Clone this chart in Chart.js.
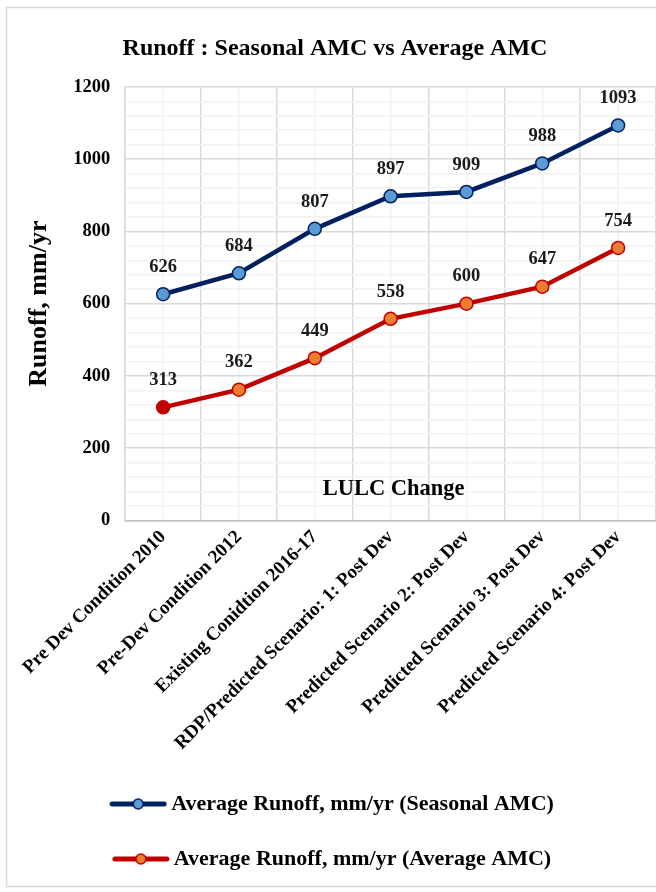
<!DOCTYPE html>
<html>
<head>
<meta charset="utf-8">
<script src="https://cdn.jsdelivr.net/npm/chart.js@4.4.1/dist/chart.umd.min.js"></script>
<style>
  html, body { margin: 0; padding: 0; background: #fff; }
  #wrap { width: 656px; height: 892px; }
</style>
</head>
<body>
<div id="wrap"><canvas id="myChart" width="656" height="892"></canvas></div>
<script>
'use strict';

// chart data
let categories = [
  'Pre Dev Condition 2010',
  'Pre-Dev Condition 2012',
  'Existing Conidtion 2016-17',
  'RDP/Predicted Scenario: 1: Post Dev',
  'Predicted Scenario 2: Post Dev',
  'Predicted Scenario 3: Post Dev',
  'Predicted Scenario 4: Post Dev'
];
let seasonalRunoff = [626, 684, 807, 897, 909, 988, 1093];
let averageRunoff = [313, 362, 449, 558, 600, 647, 754];
let seriesNames = [
  'Average Runoff, mm/yr (Seasonal AMC)',
  'Average Runoff, mm/yr (Average AMC)'
];
let yTicks = [0, 200, 400, 600, 800, 1000, 1200];

const serif = '"Liberation Serif", "DejaVu Serif", serif';
const navy = '#002060';
const lightBlue = '#5b9bd5';
const red = '#c00000';
const orange = '#ed7d31';

// legend sample: line with a marker in the middle
function legendSample(lineColor, fillColor) {
  let c = document.createElement('canvas');
  c.width = 58;
  c.height = 14;
  let g = c.getContext('2d');
  g.strokeStyle = lineColor;
  g.lineWidth = 5;
  g.lineCap = 'round';
  g.beginPath();
  g.moveTo(3, 7);
  g.lineTo(55, 7);
  g.stroke();
  g.beginPath();
  g.arc(29, 7, 5, 0, Math.PI * 2);
  g.fillStyle = fillColor;
  g.fill();
  g.lineWidth = 1.5;
  g.stroke();
  return c;
}

// white background + light outer frame
const framePlugin = {
  id: 'frame',
  beforeDraw(chart) {
    let ctx = chart.ctx;
    ctx.save();
    ctx.fillStyle = '#fff';
    ctx.fillRect(0, 0, chart.width, chart.height);
    ctx.strokeStyle = '#d9d9d9';
    ctx.lineWidth = 1.5;
    ctx.strokeRect(6.5, 7.5, 700, 879);
    ctx.restore();
  }
};

// value labels above points + x axis title inside plot
const labelPlugin = {
  id: 'pointLabels',
  afterDatasetsDraw(chart) {
    let ctx = chart.ctx;
    ctx.save();
    ctx.font = 'bold 18.5px ' + serif;
    ctx.fillStyle = '#1a1a1a';
    ctx.textAlign = 'center';
    ctx.textBaseline = 'middle';
    chart.data.datasets.forEach((ds, i) => {
      chart.getDatasetMeta(i).data.forEach((pt, j) => {
        ctx.fillText(ds.data[j], pt.x, pt.y - 27);
      });
    });
    let area = chart.chartArea;
    ctx.font = 'bold 22.5px ' + serif;
    ctx.fillStyle = '#000';
    ctx.fillText('LULC Change', (area.left + area.right) / 2 + 3, area.bottom - 31);
    ctx.restore();
  }
};

let chartObject = {
  type: 'line',
  data: {
    labels: categories,
    datasets: [{
      label: seriesNames[0],
      data: seasonalRunoff,
      borderColor: navy,
      borderWidth: 4.5,
      pointRadius: 6.5,
      pointBorderWidth: 1.5,
      pointBackgroundColor: lightBlue,
      pointBorderColor: navy,
      tension: 0
    },
    {
      label: seriesNames[1],
      data: averageRunoff,
      borderColor: red,
      borderWidth: 4.5,
      pointRadius: 6.5,
      pointBorderWidth: 1.5,
      pointBackgroundColor: averageRunoff.map((v, i) => i === 0 ? red : orange),
      pointBorderColor: red,
      tension: 0
    }]
  },
  options: {
    responsive: false,
    animation: false,
    devicePixelRatio: 1,
    layout: { autoPadding: false, padding: { left: 14, right: 0, top: 12, bottom: 12 } },
    plugins: {
      title: {
        display: true,
        text: 'Runoff : Seasonal AMC vs Average AMC',
        color: '#000',
        font: { family: serif, size: 24, weight: 'bold' },
        padding: { top: 22, bottom: 24 }
      },
      legend: {
        position: 'bottom',
        labels: {
          color: '#000',
          font: { family: serif, size: 22, weight: 'bold' },
          usePointStyle: true,
          pointStyleWidth: 44,
          padding: 33,
          generateLabels(chart) {
            return [
              { text: seriesNames[0], pointStyle: legendSample(navy, lightBlue), datasetIndex: 0, fontColor: '#000', lineWidth: 0 },
              { text: seriesNames[1], pointStyle: legendSample(red, orange), datasetIndex: 1, fontColor: '#000', lineWidth: 0 }
            ];
          }
        }
      },
      tooltip: { enabled: false }
    },
    scales: {
      x: {
        offset: true,
        grid: { offset: true, color: '#d9d9d9', lineWidth: 1.5, drawTicks: false },
        border: { color: '#bfbfbf', width: 1.5 },
        ticks: {
          color: '#000',
          font: { family: serif, size: 19, weight: 'bold' },
          minRotation: 45,
          maxRotation: 45,
          padding: 5.5,
          autoSkip: false
        }
      },
      x2: {
        position: 'top',
        offset: true,
        grid: { offset: false, color: '#f2f2f2', lineWidth: 1.5, drawTicks: false },
        border: { display: false },
        ticks: { display: false }
      },
      y: {
        min: yTicks[0],
        max: yTicks[yTicks.length - 1],
        grid: {
          color: (c) => yTicks.includes(c.tick.value) ? '#d9d9d9' : '#f2f2f2',
          lineWidth: 1.5,
          drawTicks: false
        },
        border: { color: '#d9d9d9', width: 1.5 },
        ticks: {
          stepSize: 40,
          autoSkip: false,
          padding: 15,
          color: '#000',
          font: { family: serif, size: 18.5, weight: 'bold' },
          callback: (v) => yTicks.includes(v) ? v : ''
        },
        title: {
          display: true,
          text: 'Runoff, mm/yr',
          color: '#000',
          font: { family: serif, size: 26, weight: 'bold' },
          padding: { top: 10, bottom: 3 }
        }
      }
    }
  },
  plugins: [framePlugin, labelPlugin]
};

let ctx = document.getElementById('myChart').getContext('2d');
let myChart = new Chart(ctx, chartObject);
</script>
</body>
</html>
